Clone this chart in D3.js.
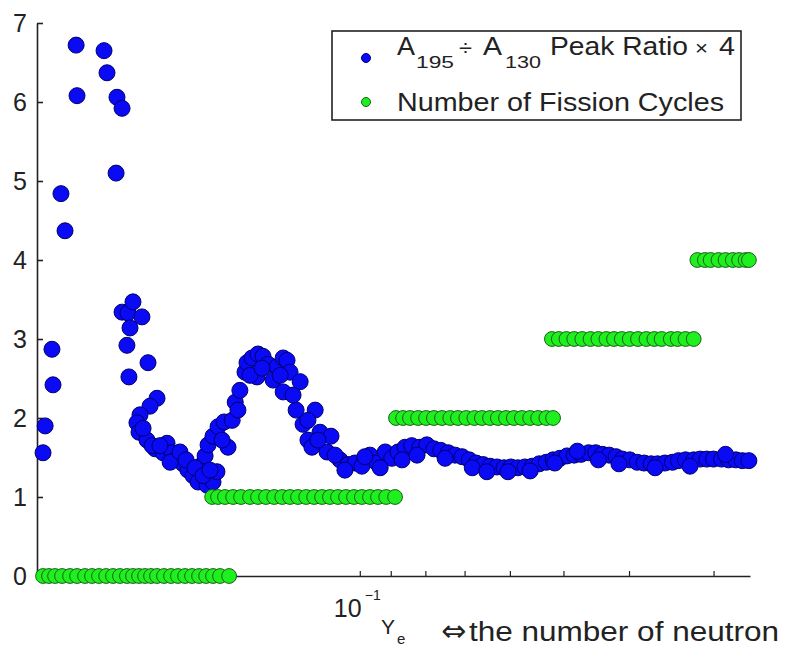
<!DOCTYPE html>
<html>
<head>
<meta charset="utf-8">
<script src="https://cdn.jsdelivr.net/npm/d3@7"></script>
<style>
  html, body { margin: 0; padding: 0; background: #fff; }
  svg { display: block; }
  text { font-family: "Liberation Sans", Arial, "DejaVu Sans", sans-serif; fill: #222; }
</style>
</head>
<body>
<svg id="chart" width="787" height="651"></svg>
<script>
// ---- data (Ye on a reversed log axis) ----
const ratioYe = [0.2939,0.2918,0.2851,0.2841,0.2765,0.2727,0.2626,0.2618,0.2388,0.2364,0.2292,0.2285,0.2246,0.2246,0.2201,0.2164,0.2099,0.2186,0.2209,0.2056,0.2194,0.1994,0.2042,0.2113,0.2135,0.2120,0.2063,0.2007,0.1953,0.1927,0.1894,0.1863,0.1825,0.1795,0.1764,0.1734,0.1682,0.1648,0.1626,0.1722,0.1693,0.1676,0.1648,0.1620,0.1587,0.1544,0.1566,0.1528,0.1504,0.1478,0.1468,0.1443,0.1414,0.1390,0.1366,0.1419,0.1343,0.1325,0.1298,0.1281,0.1268,0.1298,0.1225,0.1242,0.1213,0.1164,0.1193,0.1145,0.1177,0.1118,0.1103,0.1070,0.1041,0.1017,0.0993,0.0966,0.0943,0.0917,0.0897,0.0878,0.0857,0.0838,0.0815,0.0796,0.0777,0.0759,0.0740,0.0723,0.0706,0.0689,0.0673,0.0657,0.0642,0.0627,0.0612,0.0598,0.0584,0.0570,0.0556,0.0543,0.0530,0.0518,0.0506,0.0494,0.0482,0.0471,0.0459,0.0448,0.0438,0.0428,0.0418,0.0409,0.0399,0.0389,0.0380,0.0371,0.0363,0.0354,0.0345,0.0338,0.0330,0.0321,0.0314,0.0307,0.0300,0.0292,0.0285,0.0278,0.0272,0.0266,
  0.1052,0.0983,0.0933,0.0866,0.0823,0.0748,0.0682,0.0649,0.0604,0.0560,0.0515,0.0477,0.0444,0.0414,0.0366,0.0325,0.0288,
  0.2091,0.2028,0.1974,0.1907,0.1844,0.1806,0.1752,0.1705,0.1665,0.1598,0.1514,0.1453,0.1395,0.1311,0.1255,0.1193,0.1153,0.1088];
const ratioValues = [1.56,1.90,2.87,2.42,4.84,4.37,6.72,6.08,6.65,6.37,5.10,6.06,5.92,3.34,3.33,3.47,3.28,3.14,2.92,2.70,2.52,2.25,2.15,2.04,1.94,1.82,1.72,1.61,1.56,1.68,1.56,1.49,1.42,1.34,1.27,1.19,1.15,1.19,1.32,1.39,1.52,1.66,1.77,1.89,1.95,1.97,1.63,2.20,2.35,2.58,2.70,2.76,2.81,2.78,2.68,2.52,2.48,2.65,2.76,2.73,2.58,2.33,2.46,2.10,1.92,2.10,1.72,1.82,1.63,1.57,1.77,1.47,1.41,1.43,1.39,1.53,1.43,1.57,1.49,1.57,1.63,1.65,1.63,1.66,1.61,1.59,1.56,1.53,1.51,1.47,1.43,1.41,1.39,1.38,1.37,1.38,1.37,1.38,1.39,1.42,1.44,1.47,1.49,1.52,1.53,1.54,1.56,1.56,1.54,1.53,1.51,1.48,1.47,1.44,1.43,1.42,1.42,1.43,1.44,1.46,1.47,1.47,1.48,1.48,1.48,1.48,1.47,1.47,1.46,1.46,
  1.34,1.51,1.37,1.47,1.53,1.49,1.37,1.32,1.32,1.33,1.43,1.58,1.47,1.42,1.37,1.39,1.54,
  1.87,1.65,1.65,1.44,1.57,1.47,1.37,1.27,1.34,1.72,2.10,2.54,2.63,2.54,2.29,1.97,1.72,1.53];

const cyclesYe = [
  0.2939,0.2880,0.2821,0.2755,0.2681,0.2618,0.2547,0.2488,0.2429,0.2371,0.2316,0.2262,0.2209,0.2164,0.2120,0.2077,0.2035,0.1994,0.1947,0.1901,0.1857,0.1812,0.1770,0.1728,0.1687,0.1648,0.1609,0.1560,
  0.1653,0.1620,0.1582,0.1539,0.1498,0.1453,0.1414,0.1376,0.1338,0.1302,0.1268,0.1234,0.1200,0.1168,0.1137,0.1107,0.1077,0.1048,0.1020,0.0993,0.0966,0.0940,0.0914,0.0887,
  0.0884,0.0863,0.0843,0.0820,0.0798,0.0777,0.0756,0.0735,0.0716,0.0696,0.0677,0.0660,0.0642,0.0625,0.0608,0.0592,0.0576,0.0560,0.0545,0.0530,0.0518,
  0.0520,0.0508,0.0495,0.0482,0.0469,0.0456,0.0444,0.0432,0.0421,0.0410,0.0399,0.0388,0.0377,0.0367,0.0358,0.0347,0.0339,0.0330,0.0321,
  0.0317,0.0309,0.0303,0.0295,0.0288,0.0281,0.0275,0.0269,0.0266];
const cyclesValues = [
  0,0,0,0,0,0,0,0,0,0,0,0,0,0,0,0,0,0,0,0,0,0,0,0,0,0,0,0,
  1,1,1,1,1,1,1,1,1,1,1,1,1,1,1,1,1,1,1,1,1,1,1,1,
  2,2,2,2,2,2,2,2,2,2,2,2,2,2,2,2,2,2,2,2,2,
  3,3,3,3,3,3,3,3,3,3,3,3,3,3,3,3,3,3,3,
  4,4,4,4,4,4,4,4,4];

const yTickValues = [0,1,2,3,4,5,6,7];
const xTickValues = [0.3,0.2,0.1,0.09,0.08,0.07,0.06,0.05,0.04,0.03];
const xMajorTick = 0.1;
const xMajorLabel = ["10", "\u22121"];
const xAxisLabel = ["Y", "e"];
const legendLabels = ["Number of Fission Cycles"];
const legendRatio = ["A", "195", "\u00F7", "A", "130", "Peak Ratio", "\u00D7", "4"];
const noteText = ["\u21D4", "the number of neutron"];

// ---- scales ----
const svg = d3.select("#chart");
const x = d3.scaleLog().domain([0.3, 0.0265]).range([37, 750]);
const y = d3.scaleLinear().domain([0, 7]).range([576, 23]);

// ---- axes (under the data) ----
const gy = svg.append("g").attr("transform", "translate(37,0)")
  .call(d3.axisLeft(y).tickValues(yTickValues).tickSizeInner(-6).tickSizeOuter(0).tickPadding(10).tickFormat(d3.format("d")));
gy.select(".domain").attr("stroke", "#222").attr("stroke-width", 1.6);
gy.selectAll(".tick line").attr("stroke", "#222").attr("stroke-width", 1.6);
gy.selectAll(".tick text").attr("font-size", 25).attr("fill", "#2a2a2a")
  .attr("font-family", "'Liberation Sans', Arial, sans-serif");

const gx = svg.append("g").attr("transform", "translate(0,576)")
  .call(d3.axisBottom(x).tickValues(xTickValues).tickSizeInner(-5).tickSizeOuter(0).tickFormat(() => ""));
gx.select(".domain").attr("stroke", "#222").attr("stroke-width", 1.6);
gx.selectAll(".tick line").attr("stroke", "#222").attr("stroke-width", 1.2);

// x major tick label 10^-1
svg.append("text").attr("x", x(xMajorTick) - 26).attr("y", 617).attr("font-size", 25).text(xMajorLabel[0]);
svg.append("text").attr("x", x(xMajorTick) + 5).attr("y", 600).attr("font-size", 14).text(xMajorLabel[1]);

// axis label Y_e
svg.append("text").attr("x", 381).attr("y", 634).attr("font-size", 21).text(xAxisLabel[0]);
svg.append("text").attr("x", 397).attr("y", 644).attr("font-size", 15).text(xAxisLabel[1]);

// note text
svg.append("text").attr("x", 441).attr("y", 641).attr("font-size", 30)
  .style("font-family", "'DejaVu Sans', sans-serif").attr("fill", "#111").text(noteText[0]);
svg.append("text").attr("x", 469).attr("y", 641).attr("font-size", 27)
  .attr("textLength", 310).attr("lengthAdjust", "spacingAndGlyphs").attr("fill", "#111").text(noteText[1]);

// ---- data marks ----
const ratio = ratioYe.map((d, i) => ({ ye: d, v: ratioValues[i] }));
const cycles = cyclesYe.map((d, i) => ({ ye: d, v: cyclesValues[i] }));

svg.append("g").selectAll("circle").data(ratio).join("circle")
  .attr("cx", d => x(d.ye)).attr("cy", d => y(d.v)).attr("r", 8)
  .attr("fill", "#0a0af5").attr("stroke", "#000070").attr("stroke-width", 1);

svg.append("g").selectAll("circle").data(cycles).join("circle")
  .attr("cx", d => x(d.ye)).attr("cy", d => y(d.v)).attr("r", 7.4)
  .attr("fill", "#1ef01e").attr("stroke", "#1d5e1d").attr("stroke-width", 1);

// ---- legend ----
const lg = svg.append("g");
lg.append("rect").attr("x", 332).attr("y", 31).attr("width", 409).attr("height", 89)
  .attr("fill", "#fff").attr("stroke", "#222").attr("stroke-width", 1.6);
lg.append("circle").attr("cx", 366).attr("cy", 58).attr("r", 4.5).attr("fill", "#0a0af5").attr("stroke", "#000070");
lg.append("circle").attr("cx", 366).attr("cy", 102).attr("r", 4.5).attr("fill", "#1ef01e").attr("stroke", "#1d5e1d");

const pieces = [
  { t: legendRatio[0], x: 397, y: 55, fs: 25, w: 18 },
  { t: legendRatio[1], x: 416, y: 68, fs: 17, w: 38 },
  { t: legendRatio[2], x: 459, y: 55, fs: 22, w: 13 },
  { t: legendRatio[3], x: 483, y: 55, fs: 25, w: 19 },
  { t: legendRatio[4], x: 505, y: 68, fs: 17, w: 36 },
  { t: legendRatio[5], x: 550, y: 55, fs: 25, w: 138 },
  { t: legendRatio[6], x: 695, y: 55, fs: 20, w: 13 },
  { t: legendRatio[7], x: 719, y: 55, fs: 25, w: 16 }
];
pieces.forEach(p => {
  lg.append("text").attr("x", p.x).attr("y", p.y).attr("font-size", p.fs)
    .attr("textLength", p.w).attr("lengthAdjust", "spacingAndGlyphs").text(p.t);
});
lg.append("text").attr("x", 397).attr("y", 111).attr("font-size", 25)
  .attr("textLength", 327).attr("lengthAdjust", "spacingAndGlyphs").text(legendLabels[0]);
</script>
</body>
</html>
